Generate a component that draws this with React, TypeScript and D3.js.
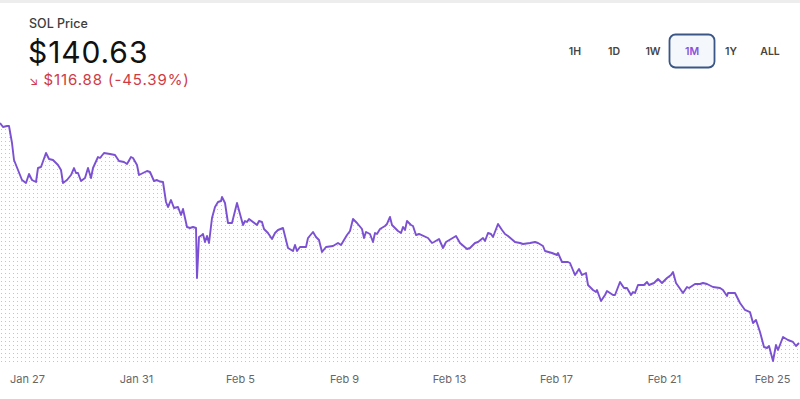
import React, { useEffect, useRef } from "react";
import * as d3 from "d3";

// hours since start of the 1M window
const hours = [
  0, 2.7, 6.3, 8.1, 10.8, 12.6, 16.2, 19.8, 23.4, 26.1, 28.8, 32.4, 34.2, 36.9, 41.4, 44.1, 47.7, 52.2, 54.9, 56.7,
  60.3, 63.9, 66.6, 68.4, 70.2, 72.9, 76.5, 79.2, 81.9, 83.7, 88.2, 90, 93.6, 99, 103.5, 107.1, 111.6, 114.3, 117.9, 119.7,
  123.3, 125.1, 128.7, 132.3, 135, 138.6, 141.3, 144, 146.7, 149.4, 151.2, 153.9, 156.6, 160.2, 162.9, 164.7, 168.3, 171, 173.7, 176.4,
  177.3, 179.1, 181.8, 182.7, 184.5, 186.3, 188.1, 190.8, 193.5, 196.2, 198.9, 199.8, 202.5, 205.2, 208.8, 213.3, 218.7, 220.5, 222.3, 224.1,
  231.3, 233.1, 235.8, 237.6, 241.2, 244.8, 247.5, 250.2, 254.7, 255.6, 259.2, 263.7, 265.5, 267.3, 270, 275.4, 277.2, 281.7, 284.4, 287.1,
  289.8, 293.4, 299.7, 304.2, 306.9, 312.3, 315, 317.7, 321.3, 325.8, 327.6, 329.4, 333, 335.7, 337.5, 339.3, 342, 346.5, 348.3, 351,
  352.8, 358.2, 360.9, 362.7, 364.5, 366.3, 369.9, 371.7, 374.4, 377.1, 385.2, 388.8, 390.6, 395.1, 398.7, 401.4, 405.9, 410.4, 414, 420.3,
  423, 427.5, 430.2, 434.7, 436.5, 439.2, 441.9, 443.7, 448.2, 451.8, 454.5, 457.2, 463.5, 468, 470.7, 477, 481.5, 484.2, 488.7, 490.5,
  496.8, 501.3, 502.2, 505.8, 511.2, 513, 517.5, 521.1, 523.8, 527.4, 529.2, 533.7, 536.4, 537.3, 540.9, 544.5, 546.3, 551.7, 553.5, 558,
  561.6, 564.3, 567.9, 569.7, 571.5, 574.2, 579.6, 582.3, 584.1, 588.6, 592.2, 595.8, 600.3, 603.9, 605.7, 608.4, 614.7, 618.3, 620.1, 625.5,
  630, 632.7, 636.3, 641.7, 648, 650.7, 654.3, 655.2, 661.5, 666, 670.5, 675, 677.7, 680.4, 684, 687.6, 690.3, 692.1, 695.7, 698.4,
  700.2, 704.7, 709.2, 713.7, 716.4, 719.1,
];

// SOL price in USD
const prices = [
  257.51, 255.38, 255.92, 255.92, 246.88, 237.85, 232.54, 227.23, 225.63, 230.41, 227.23, 226.16, 233.6, 234.13, 241.57, 238.38, 237.85, 235.2, 232.54, 225.63,
  227.23, 229.88, 233.6, 230.94, 230.94, 226.69, 228.29, 233.6, 228.29, 233.6, 239.45, 238.91, 241.57, 241.04, 240.51, 237.32, 236.79, 235.73, 239.45, 238.91,
  235.2, 229.88, 230.94, 232.01, 231.48, 226.69, 227.23, 226.4, 226.16, 215.54, 212.88, 216.6, 212.35, 212.88, 208.63, 211.82, 202.25, 201.72, 202.25, 201.72,
  175.16, 196.94, 198.0, 198.54, 194.29, 197.47, 193.75, 207.04, 212.88, 215.54, 216.07, 218.19, 215.01, 204.38, 204.38, 215.01, 203.32, 205.44, 204.91, 206.51,
  203.32, 205.44, 204.91, 201.19, 199.07, 195.88, 199.07, 200.66, 201.72, 199.6, 191.1, 189.5, 192.69, 189.5, 191.63, 191.63, 196.41, 199.6, 196.94, 195.35,
  188.97, 191.63, 192.16, 193.75, 192.69, 198.0, 200.13, 206.51, 204.38, 201.19, 196.41, 199.6, 198.54, 194.29, 199.07, 198.54, 201.19, 202.79, 203.85, 207.57,
  203.32, 200.13, 199.07, 202.25, 200.66, 205.44, 203.32, 202.79, 198.0, 198.54, 196.41, 193.75, 194.29, 195.88, 191.1, 194.29, 195.88, 197.47, 193.75, 190.57,
  191.1, 193.75, 194.29, 196.41, 194.82, 199.07, 198.54, 196.94, 203.85, 200.66, 198.54, 197.47, 194.29, 193.75, 193.22, 193.75, 194.29, 193.75, 192.16, 189.5,
  188.44, 187.38, 188.44, 183.66, 183.66, 183.13, 176.75, 179.94, 176.75, 177.81, 171.44, 168.78, 167.72, 168.78, 162.94, 166.13, 168.25, 166.13, 166.13, 173.03,
  169.85, 169.85, 166.13, 167.72, 167.19, 171.44, 171.44, 173.03, 171.44, 172.5, 174.63, 172.5, 175.16, 176.75, 178.35, 172.5, 167.19, 170.38, 169.85, 171.97,
  171.97, 172.5, 171.97, 170.38, 169.85, 168.78, 165.6, 167.19, 167.19, 161.88, 158.16, 157.09, 151.25, 152.84, 146.47, 138.5, 137.97, 139.03, 131.06, 139.56,
  136.9, 143.81, 142.22, 141.16, 139.03, 140.63,
];

const tickHours = [24.3, 122.4, 216, 309.6, 404.1, 500.4, 597.6, 694.8];
const tickLabels = ["Jan 27", "Jan 31", "Feb 5", "Feb 9", "Feb 13", "Feb 17", "Feb 21", "Feb 25"];

const ranges = ["1H", "1D", "1W", "1M", "1Y", "ALL"];
const activeRange = "1M";

const FONT = "Inter, 'Noto Sans', sans-serif";

const App = () => {
  const svgRef = useRef<SVGSVGElement>(null);

  useEffect(() => {
    const svg = d3.select(svgRef.current);
    svg.selectAll("*").remove();
    const width = 800;

    const data = hours.map((h, i) => ({ h, p: prices[i] }));

    const x = d3.scaleLinear().domain([0, 720]).range([0, width]);
    const y = d3
      .scaleLinear()
      .domain(d3.extent(prices) as [number, number])
      .range([361, 123]);

    const defs = svg.append("defs");
    const pat = defs
      .append("pattern")
      .attr("id", "dots")
      .attr("width", 4)
      .attr("height", 4)
      .attr("patternUnits", "userSpaceOnUse");
    pat.append("rect").attr("x", 1).attr("y", 1).attr("width", 1).attr("height", 1).attr("fill", "#cfb6f2");

    // top border
    svg.append("rect").attr("x", 0).attr("y", 0).attr("width", width).attr("height", 3).attr("fill", "#ededed");

    // header
    svg
      .append("text")
      .attr("x", 29)
      .attr("y", 28)
      .attr("font-family", FONT)
      .attr("font-size", 12.5)
      .attr("font-weight", 500)
      .attr("fill", "#3d3d3d")
      .text("SOL Price");
    svg
      .append("text")
      .attr("x", 28)
      .attr("y", 63)
      .attr("font-family", FONT)
      .attr("font-size", 30)
      .attr("letter-spacing", 0.9)
      .attr("fill", "#111")
      .text("$140.63");
    const chg = svg
      .append("text")
      .attr("x", 29)
      .attr("y", 85)
      .attr("font-family", FONT)
      .attr("font-size", 15)
      .attr("letter-spacing", 0.9)
      .attr("fill", "#cf3a45");
    chg.append("tspan").attr("font-size", 12).text("↘ ");
    chg.append("tspan").text("$116.88 (-45.39%)");

    // range buttons
    const btnX = d3.scalePoint().domain(ranges).range([575, 770]);
    const btn = svg
      .append("g")
      .selectAll("g")
      .data(ranges)
      .enter()
      .append("g")
      .attr("transform", (d) => `translate(${btnX(d)},51)`);
    btn
      .filter((d) => d === activeRange)
      .append("rect")
      .attr("x", -22.5)
      .attr("y", -16.5)
      .attr("width", 45)
      .attr("height", 33)
      .attr("rx", 6)
      .attr("fill", "#f4f7fc")
      .attr("stroke", "#3a5686")
      .attr("stroke-width", 1.8);
    btn
      .append("text")
      .attr("text-anchor", "middle")
      .attr("dy", "0.36em")
      .attr("font-family", FONT)
      .attr("font-size", 10.5)
      .attr("font-weight", 600)
      .attr("fill", (d) => (d === activeRange ? "#8a4fd8" : "#444"))
      .text((d) => d);

    // area + line
    const area = d3
      .area<{ h: number; p: number }>()
      .x((d) => x(d.h))
      .y0(365)
      .y1((d) => y(d.p));
    svg.append("path").datum(data).attr("d", area).attr("fill", "url(#dots)");

    const line = d3
      .line<{ h: number; p: number }>()
      .x((d) => x(d.h))
      .y((d) => y(d.p));
    svg
      .append("path")
      .datum(data)
      .attr("d", line)
      .attr("fill", "none")
      .attr("stroke", "#7b50d2")
      .attr("stroke-width", 1.9)
      .attr("stroke-linejoin", "round");

    // x axis
    const axis = svg
      .append("g")
      .attr("transform", "translate(0,370)")
      .call(
        d3
          .axisBottom(x)
          .tickValues(tickHours)
          .tickSize(0)
          .tickPadding(5)
          .tickFormat((_, i) => tickLabels[i])
      );
    axis.select(".domain").remove();
    axis
      .selectAll("text")
      .attr("font-family", FONT)
      .attr("font-size", 11)
      .attr("fill", "#666");
  }, []);

  return (
    <div style={{ position: "fixed", left: 0, top: 0, background: "#fff" }}>
      <svg ref={svgRef} width={800} height={399} style={{ display: "block" }} />
    </div>
  );
};

export default App;
